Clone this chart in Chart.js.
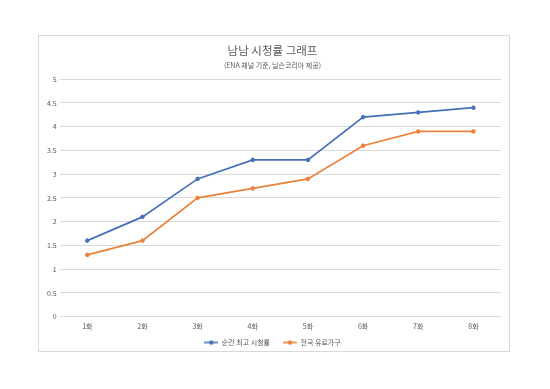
<!DOCTYPE html>
<html>
<head>
<meta charset="utf-8">
<script src="https://cdn.jsdelivr.net/npm/chart.js@4"></script>
<style>
  body { margin: 0; background: #fff; }
  #box { position: absolute; left: 38px; top: 35px; width: 472px; height: 317px; border: 1px solid #d9d9d9; box-sizing: border-box; }
</style>
</head>
<body>
<div id="box"><canvas id="grafico"></canvas></div>
<script>
const episodios = ['1화', '2화', '3화', '4화', '5화', '6화', '7화', '8화'];
const maxRating = [1.6, 2.1, 2.9, 3.3, 3.3, 4.2, 4.3, 4.4];
const nationalRating = [1.3, 1.6, 2.5, 2.7, 2.9, 3.6, 3.9, 3.9];

const fonte = "'Noto Sans CJK KR', 'Noto Sans', sans-serif";
Chart.defaults.font.family = fonte;
Chart.defaults.color = '#595959';

// marcador da legenda: linha com ponto no meio
function marcador(cor) {
    const c = document.createElement('canvas');
    c.width = 14;
    c.height = 6;
    const g = c.getContext('2d');
    g.strokeStyle = cor;
    g.lineWidth = 1.6;
    g.beginPath();
    g.moveTo(0, 3);
    g.lineTo(14, 3);
    g.stroke();
    g.fillStyle = cor;
    g.beginPath();
    g.arc(7, 3, 2.2, 0, Math.PI * 2);
    g.fill();
    return c;
}

const ctx = document.getElementById('grafico').getContext('2d');
new Chart(ctx, {
    type: 'line',
    data: {
        labels: episodios,
        datasets: [
            {
                label: '순간 최고 시청률',
                data: maxRating,
                borderColor: '#4670b8',
                backgroundColor: '#4670b8',
                borderWidth: 1.7,
                pointRadius: 1.8,
                pointBorderWidth: 1,
                fill: false
            },
            {
                label: '전국 유료가구',
                data: nationalRating,
                borderColor: '#e9823a',
                backgroundColor: '#e9823a',
                borderWidth: 1.7,
                pointRadius: 1.8,
                pointBorderWidth: 1,
                fill: false
            }
        ]
    },
    options: {
        responsive: true,
        maintainAspectRatio: false,
        animation: false,
        layout: { padding: { left: 5, right: 8, top: 0, bottom: -5 } },
        plugins: {
            title: {
                display: true,
                text: '남남 시청률 그래프',
                color: '#595959',
                font: { size: 11.5, weight: 'normal' },
                padding: { top: 8, bottom: 3 }
            },
            subtitle: {
                display: true,
                text: '(ENA 채널 기준, 닐슨코리아 제공)',
                color: '#595959',
                font: { size: 7 },
                padding: { bottom: 10 }
            },
            legend: {
                position: 'bottom',
                labels: {
                    font: { size: 7 },
                    usePointStyle: true,
                    pointStyleWidth: 14,
                    padding: 2,
                    generateLabels: (chart) => {
                        const itens = Chart.defaults.plugins.legend.labels.generateLabels(chart);
                        itens.forEach((item, i) => {
                            item.pointStyle = marcador(chart.data.datasets[i].borderColor);
                            if (i < itens.length - 1) item.text = item.text + '       ';
                        });
                        return itens;
                    }
                }
            },
            tooltip: { enabled: false }
        },
        scales: {
            x: {
                offset: true,
                grid: { display: false, drawTicks: false },
                border: { display: false },
                ticks: { font: { size: 7 }, padding: 6 }
            },
            y: {
                min: 0,
                max: 5,
                ticks: {
                    stepSize: 0.5,
                    font: { size: 7 },
                    padding: 3,
                    callback: (v) => String(v)
                },
                grid: { color: '#d9d9d9', drawTicks: false },
                border: { display: false }
            }
        }
    }
});
</script>
</body>
</html>
